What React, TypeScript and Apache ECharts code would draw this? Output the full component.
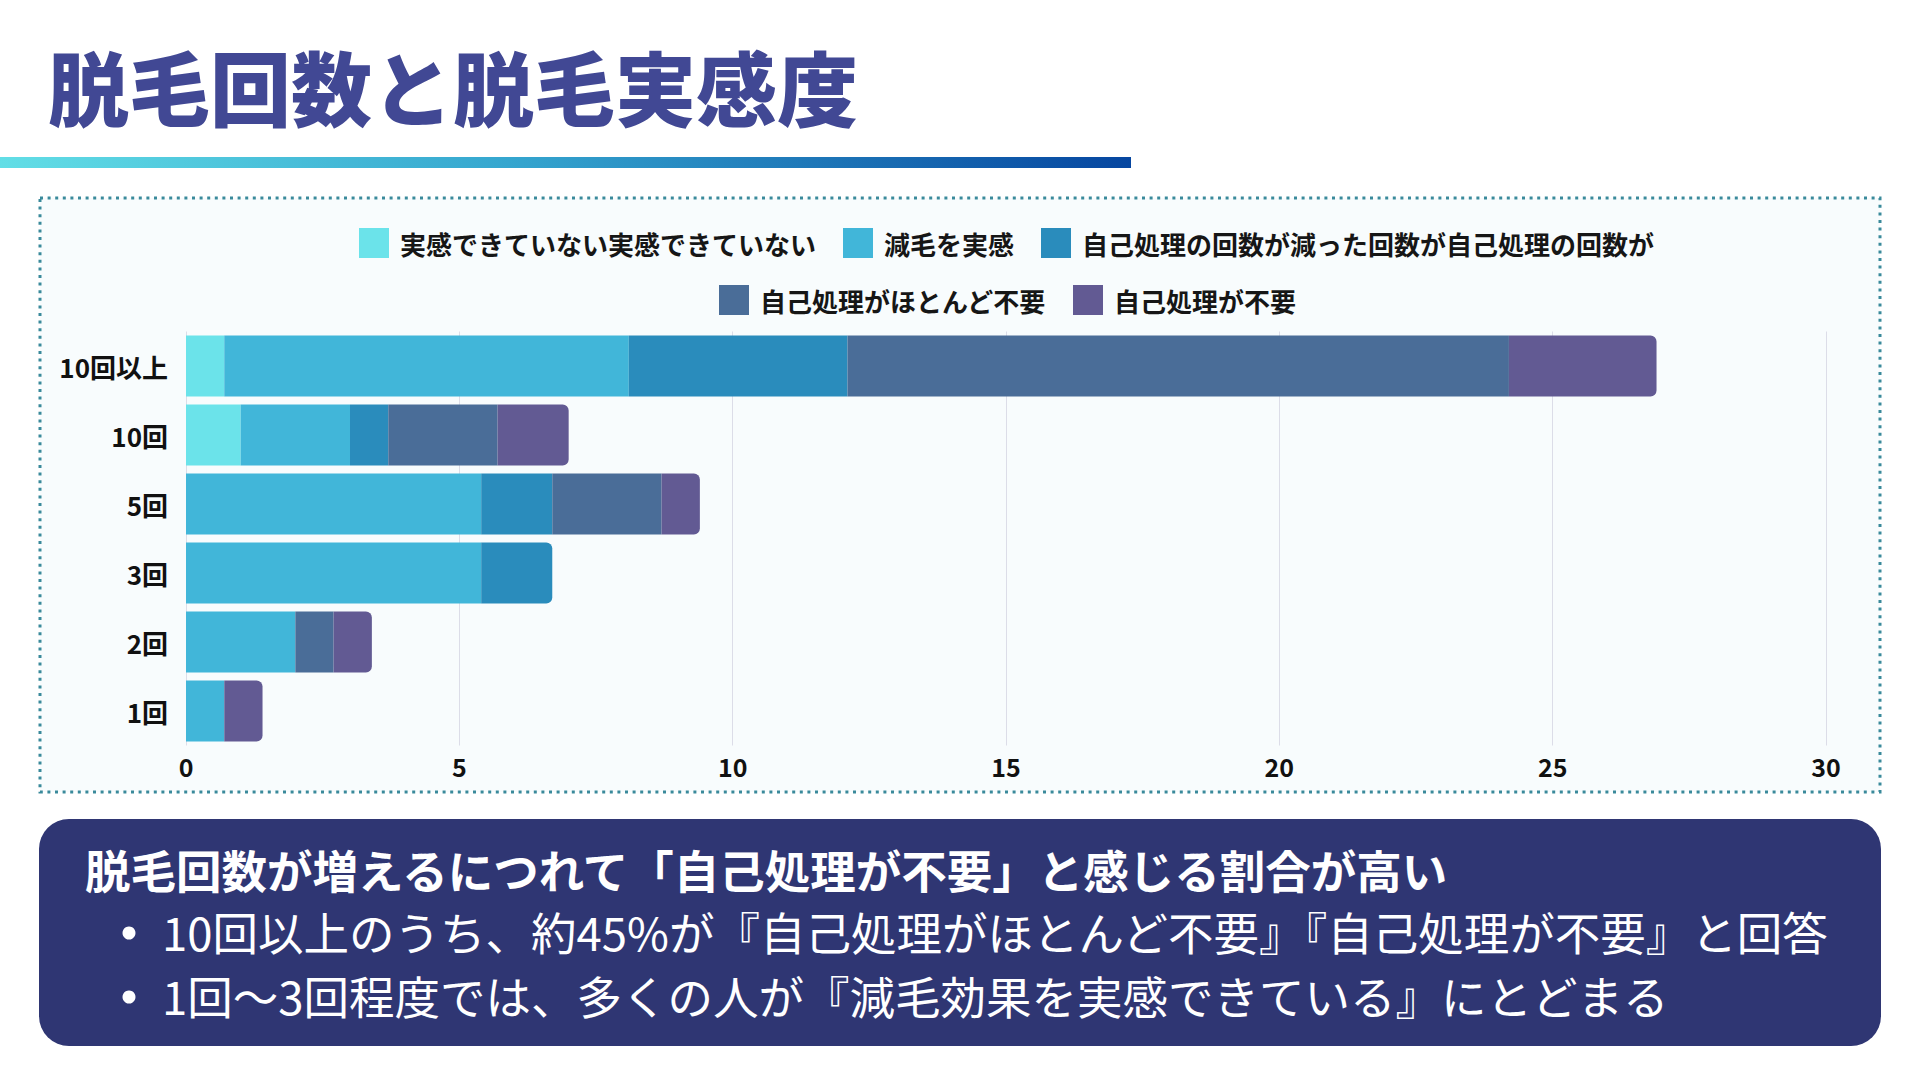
import React, { useEffect, useRef } from "react";
import * as echarts from "echarts";

// Rows, top to bottom
const categories = ["10回以上", "10回", "5回", "3回", "2回", "1回"];

// Series names (legend order)
const seriesNames = [
  "実感できていない実感できていない",
  "減毛を実感",
  "自己処理の回数が減った回数が自己処理の回数が",
  "自己処理がほとんど不要",
  "自己処理が不要",
];

// Values per series, in the order of `categories`
const notFelt = [0.7, 1.0, 0, 0, 0, 0];
const reducedHair = [7.4, 2.0, 5.4, 5.4, 2.0, 0.7];
const fewerSelfCare = [4.0, 0.7, 1.3, 1.3, 0, 0];
const almostNoSelfCare = [12.1, 2.0, 2.0, 0, 0.7, 0];
const noSelfCare = [2.7, 1.3, 0.7, 0, 0.7, 0.7];

const seriesValues = [notFelt, reducedHair, fewerSelfCare, almostNoSelfCare, noSelfCare];
const seriesColors = ["#6be3ea", "#41b6d9", "#2a8cbc", "#4a6d98", "#625a93"];

// Axis ticks
const xMin = 0;
const xMax = 30;
const xStep = 5;

const titleText = "脱毛回数と脱毛実感度";
const summaryHeading = "脱毛回数が増えるにつれて「自己処理が不要」と感じる割合が高い";
const summaryPoints = [
  "10回以上のうち、約45%が『自己処理がほとんど不要』『自己処理が不要』と回答",
  "1回〜3回程度では、多くの人が『減毛効果を実感できている』にとどまる",
];

const FONT = '"Noto Sans CJK JP", "Noto Sans", sans-serif';

export default function App() {
  const ref = useRef<HTMLDivElement>(null);

  useEffect(() => {
    if (!ref.current) return;
    const chart = echarts.init(ref.current, undefined, { renderer: "svg" });

    // index of the right-most non-empty segment in every row
    const lastIdx = categories.map((_, row) => {
      let last = -1;
      seriesValues.forEach((vals, s) => {
        if (vals[row] > 0) last = s;
      });
      return last;
    });

    const series = seriesNames.map((name, s) => ({
      name,
      type: "bar",
      stack: "total",
      barWidth: 61,
      itemStyle: { color: seriesColors[s] },
      emphasis: { disabled: true },
      data: seriesValues[s].map((v, row) => ({
        value: v,
        itemStyle: lastIdx[row] === s ? { borderRadius: [0, 6, 6, 0] } : {},
      })),
    }));

    const legendText = {
      fontSize: 26,
      fontWeight: "bold",
      color: "#161616",
      fontFamily: FONT,
      padding: [0, 0, 0, 6],
    };

    const graphic: any[] = [
      // chart panel with dotted frame
      {
        type: "rect",
        z: -10,
        shape: { x: 40, y: 198, width: 1840, height: 594 },
        style: {
          fill: "#f8fcfd",
          stroke: "#3a8a9b",
          lineWidth: 3,
          lineDash: [3, 4.6],
        },
      },
      // heading
      {
        type: "text",
        x: 48,
        y: 84,
        style: {
          text: titleText,
          font: `900 81px ${FONT}`,
          fill: "#414894",
          textAlign: "left",
          textVerticalAlign: "middle",
        },
      },
      // gradient rule under the heading
      {
        type: "rect",
        shape: { x: 0, y: 157, width: 1131, height: 11 },
        style: {
          fill: new echarts.graphic.LinearGradient(0, 0, 1, 0, [
            { offset: 0, color: "#62dee6" },
            { offset: 0.45, color: "#35a6cf" },
            { offset: 1, color: "#0646a0" },
          ]),
        },
      },
      // summary box
      {
        type: "rect",
        shape: { x: 39, y: 819, width: 1842, height: 227, r: 30 },
        style: { fill: "#2f3673" },
      },
      {
        type: "text",
        x: 85,
        y: 869,
        style: {
          text: summaryHeading,
          font: `bold 45.5px ${FONT}`,
          fill: "#ffffff",
          textAlign: "left",
          textVerticalAlign: "middle",
        },
      },
      ...summaryPoints.flatMap((t, i) => [
        {
          type: "circle",
          shape: { cx: 129, cy: 933 + i * 64, r: 6.5 },
          style: { fill: "#ffffff" },
        },
        {
          type: "text",
          x: 162,
          y: 931 + i * 64,
          style: {
            text: t,
            font: `normal 45.5px ${FONT}`,
            fill: "#ffffff",
            textAlign: "left",
            textVerticalAlign: "middle",
          },
        },
      ]),
    ];

    chart.setOption({
      animation: false,
      backgroundColor: "#ffffff",
      textStyle: { fontFamily: FONT },
      graphic,
      legend: [
        {
          data: seriesNames.slice(0, 3),
          left: 354,
          top: 223,
          itemWidth: 30,
          itemHeight: 30,
          itemGap: 27,
          icon: "rect",
          textStyle: legendText,
        },
        {
          data: seriesNames.slice(3),
          left: 714,
          top: 280,
          itemWidth: 30,
          itemHeight: 30,
          itemGap: 27,
          icon: "rect",
          textStyle: legendText,
        },
      ],
      grid: { left: 186, right: 94, top: 331.5, height: 414, containLabel: false },
      xAxis: {
        type: "value",
        min: xMin,
        max: xMax,
        interval: xStep,
        axisLine: { show: false },
        axisTick: { show: false },
        splitLine: { show: true, lineStyle: { color: "#dcdde8", width: 1 } },
        axisLabel: {
          fontSize: 25,
          fontWeight: "bold",
          color: "#111111",
          margin: 8,
          fontFamily: FONT,
        },
      },
      yAxis: {
        type: "category",
        data: categories,
        inverse: true,
        axisLine: { show: false },
        axisTick: { show: false },
        axisLabel: {
          fontSize: 26,
          fontWeight: "bold",
          color: "#111111",
          margin: 18,
          fontFamily: FONT,
        },
      },
      series,
    });

    return () => chart.dispose();
  }, []);

  return (
    <div
      ref={ref}
      style={{ position: "absolute", left: 0, top: 0, width: 1920, height: 1080 }}
    />
  );
}
